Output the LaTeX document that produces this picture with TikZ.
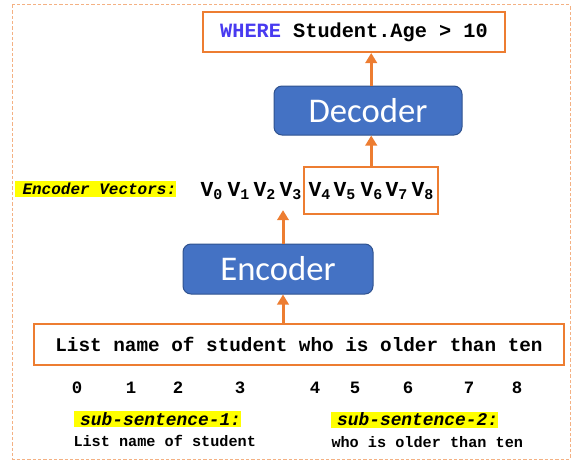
\documentclass[tikz,border=0pt]{standalone}
\usepackage{fontspec}
\usepackage{tikz}
\usetikzlibrary{arrows.meta,fit}
\newfontfamily\typew{Liberation Mono}
\newfontfamily\calib{Carlito}
\definecolor{ofcorange}{RGB}{237,125,49}
\definecolor{ofclight}{RGB}{244,177,131}
\definecolor{ofcblue}{RGB}{68,114,196}
\definecolor{ofcdark}{RGB}{47,82,143}
\definecolor{kwblue}{RGB}{72,58,240}
\definecolor{hlyellow}{RGB}{255,255,0}
\tikzset{every picture/.style={line width=0.75pt}}
\tikzset{
  flow/.style={draw=ofcorange, line width=2.25pt, -{Triangle[width=8.5pt,length=7.5pt]}},
  outbox/.style={draw=ofcorange, line width=1.5pt, inner sep=0pt},
  coder/.style={draw=ofcdark, fill=ofcblue, rounded corners=6pt, text=white,
    font=\calib\fontsize{26}{30}\selectfont, inner sep=0pt},
  vecitem/.style={anchor=base west, inner sep=0pt, font=\typew\bfseries\fontsize{16}{18}\selectfont},
  idx/.style={inner sep=0pt, font=\typew\bfseries\fontsize{13}{15}\selectfont},
  hilite/.style={fill=hlyellow, anchor=west, inner sep=0pt, minimum height=12pt,
    font=\typew\bfseries\itshape\fontsize{13.4}{15}\selectfont},
  subtext/.style={anchor=west, inner sep=0pt, font=\typew\bfseries\fontsize{11.4}{13}\selectfont}
}
\newcommand{\encv}[1]{V\textsubscript{#1}}

\begin{document}
\begin{tikzpicture}[x=0.75pt,y=0.75pt,yscale=-1,xscale=1]
\useasboundingbox (0,0) rectangle (573,460);

%Shape: Dashed frame
\draw [draw=ofclight, dash pattern=on 2.5pt off 1.5pt] (12,5) rectangle (570,459);

% Text Node: output query
\node (where) [outbox, minimum width=226.5pt, minimum height=30pt,
  font=\typew\bfseries\fontsize{15.2}{17}\selectfont] at (354,32)
  {\textcolor{kwblue}{WHERE} Student.Age > 10};

%Shape: Decoder
\node (dec) [coder, minimum width=141pt, minimum height=36.75pt] at (368,110.5) {Decoder};

% Text Node: encoder vectors
\node (veclabel) [hilite, font=\typew\bfseries\itshape\fontsize{12}{14}\selectfont] at (14,188.5)
  {\hspace{6pt}Encoder Vectors:};
\foreach \i/\x in {0/200,1/227,2/253,3/279,4/308,5/333,6/360,7/385,8/411}
  \node (v\i) [vecitem] at (\x,196) {\encv{\i}};
\node (vbox) [outbox, fit=(v4)(v8), inner xsep=3pt, inner ysep=10.5pt] {};

%Shape: Encoder
\node (enc) [coder, minimum width=142.5pt, minimum height=37.5pt] at (278,269) {Encoder};

% Text Node: input sentence
\node (sent) [outbox, minimum width=397.5pt, minimum height=30.75pt,
  font=\typew\bfseries\fontsize{14.5}{17}\selectfont] at (299,344.5)
  {List name of student who is older than ten};

% Text Node: token indices
\foreach \i/\x in {0/77,1/131,2/178,3/240,4/315,5/355,6/408,7/469,8/517}
  \node (t\i) [idx] at (\x,388) {\i};

% Text Node: sub-sentences
\node (sub1) [hilite] at (73,419) {\hspace{5pt}sub-sentence-1:};
\node (sub1txt) [subtext] at (73,441) {List name of student};
\node (sub2) [hilite] at (330,419.5) {\hspace{5pt}sub-sentence-2:};
\node (sub2txt) [subtext] at (331,442) {who is older than ten};

%Straight Lines: arrows
\coordinate (encx) at (283,0);
\draw [flow] (sent.north -| encx) -- (enc.south -| encx);
\draw [flow] (enc.north -| encx) -- ([yshift=7.5pt]v3.south -| encx);
\draw [flow] (vbox.north) -- (vbox.north |- dec.south);
\draw [flow] (dec.north -| vbox.north) -- (where.south -| vbox.north);

\end{tikzpicture}
\end{document}
